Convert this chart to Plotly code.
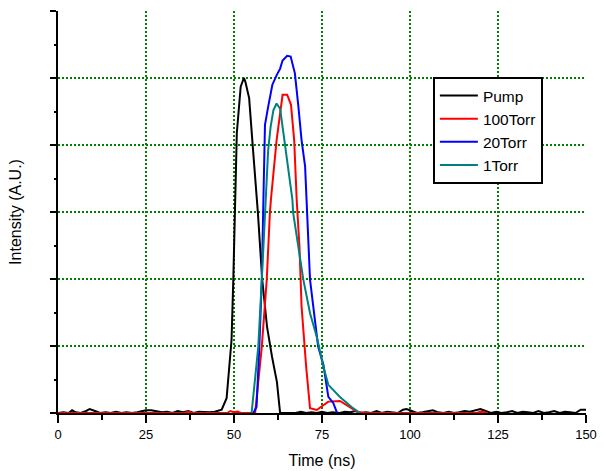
import plotly.graph_objects as go

# Pump pulse (ns, arbitrary units)
pump_t = [0, 1.5, 3, 4, 5, 6.5, 8, 9, 10.5, 12, 13.5, 15, 16.5, 18, 19.5, 21, 22.5, 24, 25,
          26.5, 28, 29.5, 31, 32.5, 34, 35.5, 37, 38.5, 40, 41.5, 43, 44.5, 45.5, 46.5,
          47.9, 49.3, 49.8, 50.3, 50.8, 51.9, 52.8, 53.2, 54.3, 55.4, 56.5, 56.8, 58.0,
          59.4, 60.8, 62.2, 63.1, 64.5, 66, 67.5, 69, 70.5, 72, 73.5, 75, 76.5, 78, 80,
          81.5, 83, 84.5, 86, 87.5, 89, 90.5, 92, 93.5, 95, 96.5, 98, 99, 100.5, 102,
          103.5, 105, 106.5, 108, 109.5, 111, 112.5, 114, 115.5, 117, 118.5, 120, 121.5,
          123, 124.5, 126, 127.5, 129, 130.5, 132, 133.5, 135, 136.5, 138, 139.5, 141,
          142.5, 144, 145.5, 147, 148.5, 150]
pump_v = [0.00, 0.01, 0.00, 0.04, 0.01, 0.00, 0.03, 0.06, 0.03, 0.00, 0.01, 0.00, 0.02,
          0.00, 0.01, 0.00, 0.01, 0.03, 0.04, 0.04, 0.03, 0.01, 0.02, 0.00, 0.03, 0.01,
          0.03, 0.00, 0.02, 0.01, 0.01, 0.02, 0.03, 0.05, 0.22, 1.09, 1.99, 3.30, 4.18,
          4.87, 5.00, 4.95, 4.70, 3.93, 3.19, 2.98, 2.00, 1.28, 0.84, 0.46, 0.00, 0.00,
          0.01, 0.00, 0.02, 0.00, 0.01, 0.00, 0.02, 0.00, 0.01, 0.00, 0.02, 0.01, 0.03,
          0.00, 0.01, 0.00, 0.03, 0.00, 0.02, 0.01, 0.00, 0.05, 0.06, 0.03, 0.00, 0.01,
          0.03, 0.04, 0.01, 0.00, 0.02, 0.00, 0.01, 0.03, 0.02, 0.04, 0.06, 0.03, 0.00,
          0.02, 0.00, 0.01, 0.03, 0.00, 0.02, 0.01, 0.00, 0.03, 0.00, 0.01, 0.03, 0.00,
          0.02, 0.01, 0.00, 0.05, 0.05]

# 100 Torr
torr100_t = [0, 36, 37, 38, 48, 49, 50, 51, 52, 56.0, 57.9, 59.3, 60.2, 60.5, 62.1, 63.1,
             63.8, 65.1, 66.2, 67.1, 67.8, 68.6, 69.2, 70.5, 71.6, 73.5, 75.4, 76.8, 80.1,
             82.0, 84.9, 87.2, 100, 119, 120, 121, 122]
torr100_v = [0.00, 0.00, 0.02, 0.00, 0.00, 0.03, 0.01, 0.02, 0.00, 0.00, 0.99, 1.99, 2.99,
             3.19, 4.07, 4.52, 4.75, 4.75, 4.60, 4.07, 3.19, 2.48, 1.59, 0.69, 0.07, 0.045,
             0.12, 0.17, 0.18, 0.12, 0.02, 0.00, 0.00, 0.00, 0.02, 0.01, 0.00]

# 20 Torr
torr20_t = [55.5, 56.4, 57.2, 57.9, 58.4, 58.8, 59.7, 60.9, 62.1, 63.1, 63.8, 65.1, 66.1,
            67.3, 68.3, 69.2, 70.2, 70.5, 70.9, 71.6, 73.9, 75.4, 76.8, 78.2, 79.3]
torr20_v = [0.00, 0.09, 0.99, 1.99, 3.30, 4.30, 4.57, 4.90, 5.04, 5.14, 5.26, 5.33, 5.32,
            5.07, 4.57, 4.07, 3.68, 3.30, 2.99, 1.99, 0.99, 0.72, 0.24, 0.15, 0.00]

# 1 Torr
torr1_t = [55.0, 56.9, 57.9, 58.8, 59.3, 59.7, 60.4, 61.2, 62.1, 63.1, 63.8, 65.0, 65.9,
           66.6, 66.8, 68.3, 69.7, 71.6, 73.5, 75.4, 76.8, 80.1, 83.4, 85.8]
torr1_v = [0.00, 0.99, 1.99, 2.99, 3.48, 3.92, 4.27, 4.52, 4.62, 4.54, 4.27, 3.78, 3.43,
           3.18, 2.99, 2.48, 1.99, 1.49, 1.14, 0.69, 0.42, 0.24, 0.09, 0.00]

series = [
    ("Pump", pump_t, pump_v, "#000000"),
    ("100Torr", torr100_t, torr100_v, "#ff0000"),
    ("20Torr", torr20_t, torr20_v, "#0000ff"),
    ("1Torr", torr1_t, torr1_v, "#008080"),
]

fig = go.Figure()
for name, t, v, color in series:
    fig.add_trace(go.Scatter(x=t, y=v, name=name, mode="lines",
                             line=dict(color=color, width=2)))

grid = dict(showgrid=True, gridcolor="#008000", gridwidth=1.5, griddash="2px,2px")

fig.update_layout(
    width=604, height=471,
    margin=dict(l=58, r=18, t=11, b=58),
    paper_bgcolor="white", plot_bgcolor="white",
    font=dict(family="Liberation Sans, Arial, sans-serif", color="#000000", size=13),
    legend=dict(x=0.71, y=0.836, xanchor="left", yanchor="top",
                bgcolor="white", bordercolor="black", borderwidth=2,
                font=dict(size=15.5), tracegroupgap=0, itemwidth=38),
    xaxis=dict(range=[0, 150], dtick=25, tick0=0, automargin=False,
               showline=True, linecolor="black", linewidth=2,
               ticks="outside", ticklen=8, tickwidth=2, tickcolor="black",
               minor=dict(dtick=12.5, ticks="outside", ticklen=5, tickwidth=2,
                          tickcolor="black", showgrid=False),
               zeroline=False,
               title=dict(text="Time (ns)", font=dict(size=16), standoff=14),
               **grid),
    yaxis=dict(range=[0, 6], dtick=1, tick0=0, automargin=False,
               showline=True, linecolor="black", linewidth=2,
               ticks="outside", ticklen=6, tickwidth=2, tickcolor="black",
               minor=dict(dtick=0.5, ticks="outside", ticklen=2, tickwidth=2,
                          tickcolor="black", showgrid=False),
               showticklabels=False, zeroline=False,
               title=dict(text="Intensity (A.U.)", font=dict(size=16), standoff=24),
               **grid),
)

fig.write_html("out.html")
